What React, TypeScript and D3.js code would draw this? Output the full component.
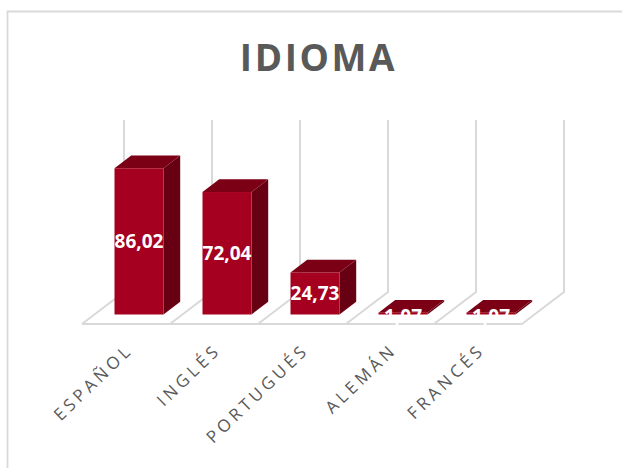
import React from "react";
import * as d3 from "d3";

const categories = ["ESPAÑOL", "INGLÉS", "PORTUGUÉS", "ALEMÁN", "FRANCÉS"];
const values = [86.02, 72.04, 24.73, 1.07, 1.07];
const valueLabels = ["86,02", "72,04", "24,73", "1,07", "1,07"];

const W = 622, H = 468;
const depthX = 42, depthY = 32;
const barDX = 16.7, barDY = 12.7;
const baseY = 314.5;
const x = d3.scaleBand<string>().domain(categories).range([82, 522]).paddingInner(0).paddingOuter(0);
const y = d3.scaleLinear().domain([0, 100]).range([baseY, 144.5]);
const frontOffset = 32.5; // bar left relative to floor cell start
const barW = 49;
const gridColor = "#d9d9d9";
const gridXs = [...categories.map((c) => x(c)!), 522];
const floorY = 324;

export default function App() {
  return (
    <svg width={W} height={H} style={{ position: "fixed", left: 0, top: 0, background: "#fff" }} fontFamily="'Open Sans'">
      <path d={`M7.5 ${H}V11.5H${W}`} fill="none" stroke={gridColor} strokeWidth={1.8} />
      <text x={318.5} y={71} textAnchor="middle" fontSize={37} fontWeight={700} letterSpacing={2.6} fill="#595959">IDIOMA</text>
      {/* walls and floor */}
      <g fill="none" stroke={gridColor} strokeWidth={2}>
        {gridXs.map((gx, i) => (
          <path key={i} d={`M${gx + depthX} 120V${floorY - depthY}L${gx} ${floorY}`} />
        ))}
        <path d={`M82 ${floorY}H522`} />
      </g>
      {/* bars */}
      {categories.map((c, i) => {
        const x0 = x(c)! + frontOffset;
        const x1 = x0 + barW;
        const t = y(values[i]);
        const small = values[i] < 5;
        return (
          <g key={c}>
            <path d={`M${x1} ${t}L${x1 + barDX} ${t - barDY}V${baseY - barDY}L${x1} ${baseY}Z`} fill="#670012" />
            <path d={`M${x0} ${t}L${x0 + barDX} ${t - barDY}H${x1 + barDX}L${x1} ${t}Z`} fill="#7b0015" />
            <rect x={x0} y={t} width={barW} height={baseY - t} fill="#a5001f" />
            <text
              x={x0 + barW / 2}
              y={small ? t + 10.5 : (t + baseY) / 2 + 6.5}
              textAnchor="middle"
              fontSize={19}
              fontWeight={700}
              fill="#fff"
            >
              {valueLabels[i]}
            </text>
          </g>
        );
      })}
      {/* category labels */}
      {categories.map((c) => {
        const ax = x(c)! + 52;
        return (
          <text
            key={c}
            transform={`translate(${ax},351) rotate(-44)`}
            textAnchor="end"
            fontSize={17}
            letterSpacing={3.9}
            fill="#595959"
          >
            {c}
          </text>
        );
      })}
    </svg>
  );
}
